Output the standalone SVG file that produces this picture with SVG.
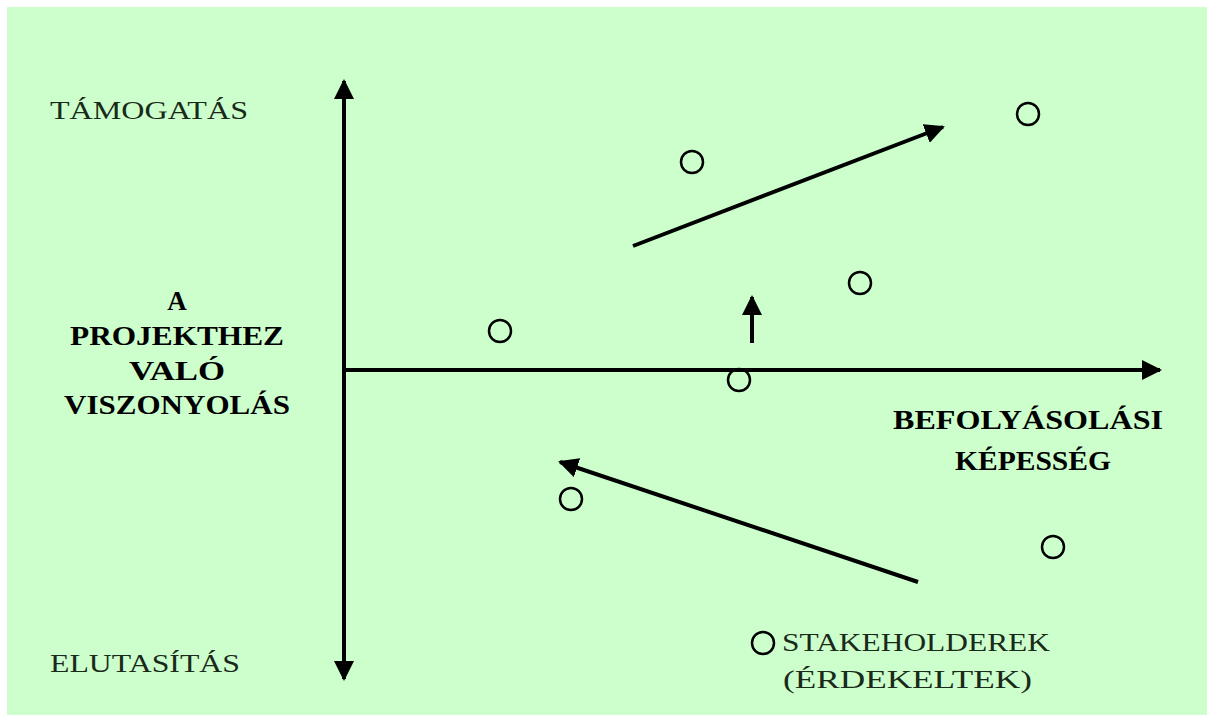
<svg xmlns="http://www.w3.org/2000/svg" width="1207" height="722" viewBox="0 0 1207 722">
<defs>
<marker id="ah" viewBox="0 0 10 10" refX="9" refY="5" markerWidth="5" markerHeight="5" orient="auto-start-reverse" markerUnits="strokeWidth">
<path d="M0,0 L10,5 L0,10 z" fill="#000"/>
</marker>
<style>
.ln{stroke:#000;stroke-width:4;fill:none;stroke-linecap:butt}
.nd{fill:none;stroke:#000;stroke-width:2.5}
.t{font-family:"Liberation Serif",serif;font-size:26px;fill:#1a2a1a}
.b{font-family:"Liberation Serif",serif;font-size:27px;font-weight:bold;fill:#000}
</style>
</defs>
<rect x="0" y="0" width="1207" height="722" fill="#fff"/>
<rect x="7" y="7" width="1200" height="708" fill="#ccffcc"/>
<g id="connectors">
<line class="ln" x1="344" y1="679" x2="344" y2="81" marker-start="url(#ah)" marker-end="url(#ah)"/>
<line class="ln" x1="343" y1="370" x2="1160" y2="370" marker-end="url(#ah)"/>
<line class="ln" x1="633" y1="246" x2="943" y2="127" marker-end="url(#ah)"/>
<line class="ln" x1="918" y1="582" x2="560" y2="462" marker-end="url(#ah)"/>
<line class="ln" x1="752" y1="343" x2="752" y2="297" marker-end="url(#ah)"/>
</g>
<g id="n1"><circle class="nd" cx="692" cy="162" r="11"/></g>
<g id="n2"><circle class="nd" cx="1028" cy="114" r="11"/></g>
<g id="n3"><circle class="nd" cx="860" cy="283" r="11"/></g>
<g id="n4"><circle class="nd" cx="500" cy="331" r="11"/></g>
<g id="n5"><circle class="nd" cx="739" cy="380" r="11"/></g>
<g id="n6"><circle class="nd" cx="571" cy="499" r="11"/></g>
<g id="n7"><circle class="nd" cx="1053" cy="547" r="11"/></g>
<g id="n8"><circle class="nd" cx="763" cy="643" r="11"/></g>
<g id="labels">
<text class="t" x="50" y="119" textLength="198" lengthAdjust="spacingAndGlyphs">TÁMOGATÁS</text>
<text class="t" x="50" y="672" textLength="190" lengthAdjust="spacingAndGlyphs">ELUTASÍTÁS</text>
<text class="b" x="177" y="310" text-anchor="middle">A</text>
<text class="b" x="177" y="345" text-anchor="middle" textLength="214" lengthAdjust="spacingAndGlyphs">PROJEKTHEZ</text>
<text class="b" x="177" y="380" text-anchor="middle" textLength="96" lengthAdjust="spacingAndGlyphs">VALÓ</text>
<text class="b" x="177" y="414" text-anchor="middle" textLength="226" lengthAdjust="spacingAndGlyphs">VISZONYOLÁS</text>
<text class="b" x="893" y="429" textLength="270" lengthAdjust="spacingAndGlyphs">BEFOLYÁSOLÁSI</text>
<text class="b" x="955" y="470" textLength="156" lengthAdjust="spacingAndGlyphs">KÉPESSÉG</text>
<text class="t" x="782" y="651" textLength="268" lengthAdjust="spacingAndGlyphs">STAKEHOLDEREK</text>
<text class="t" x="783" y="688" textLength="249" lengthAdjust="spacingAndGlyphs">(ÉRDEKELTEK)</text>
</g>
</svg>
